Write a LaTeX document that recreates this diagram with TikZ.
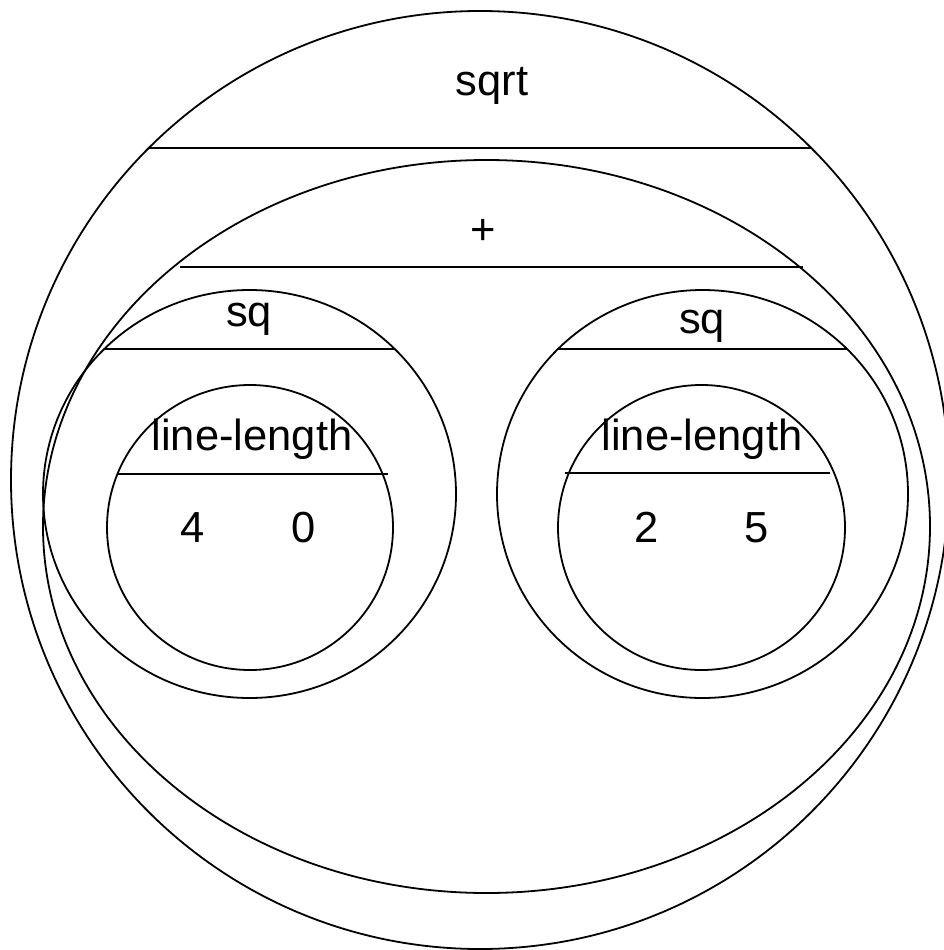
\documentclass[tikz,border=0pt]{standalone}
\usepackage{fontspec}
\setmainfont{Liberation Sans}
\usetikzlibrary{shapes.geometric}

\tikzset{
  bubble/.style={draw, ellipse, inner sep=0pt, line width=1.8pt},
  sepline/.style={line width=1.8pt},
  lbl/.style={anchor=base, inner sep=0pt, font=\fontsize{43.5}{50}\selectfont}
}

\begin{document}
\begin{tikzpicture}[x=1pt, y=-1pt]
  \useasboundingbox (0,0) rectangle (943,950);

  % nested expression bubbles
  \node[bubble, minimum width=938pt, minimum height=938pt] (sqrtE) at (480,480) {};
  \node[bubble, minimum width=887pt, minimum height=733pt] (plusE) at (486.5,526.5) {};
  \node[bubble, minimum width=413pt, minimum height=408pt] (sqL) at (249.5,494) {};
  \node[bubble, minimum width=411pt, minimum height=408pt] (sqR) at (702.5,494) {};
  \node[bubble, minimum width=286pt, minimum height=285pt] (llL) at (250,527.5) {};
  \node[bubble, minimum width=287pt, minimum height=285pt] (llR) at (701.5,527.5) {};

  % header separators
  \draw[sepline] (sqrtE.135) -- (sqrtE.45);
  \coordinate (plusA) at (180,267);
  \coordinate (plusB) at (803,267);
  \draw[sepline] (plusA) -- (plusB);
  \coordinate (sqLA) at (105,349);
  \coordinate (sqLB) at (395,349);
  \draw[sepline] (sqLA) -- (sqLB);
  \coordinate (sqRA) at (557,349);
  \coordinate (sqRB) at (847,349);
  \draw[sepline] (sqRA) -- (sqRB);
  \coordinate (llLA) at (117,474);
  \coordinate (llLB) at (388,474);
  \draw[sepline] (llLA) -- (llLB);
  \coordinate (llRA) at (565,473);
  \coordinate (llRB) at (830,473);
  \draw[sepline] (llRA) -- (llRB);

  % operator names and arguments
  \node[lbl] (tSqrt) at (492,95) {sqrt};
  \node[lbl] (tPlus) at (483,244) {+};
  \node[lbl] (tSqL) at (249,326) {sq};
  \node[lbl] (tSqR) at (702,333) {sq};
  \node[lbl] (tLlL) at (252,450) {line-length};
  \node[lbl] (tLlR) at (702,450) {line-length};
  \node[lbl] (a4) at (193,542) {4};
  \node[lbl] (a0) at (304,542) {0};
  \node[lbl] (a2) at (647,542) {2};
  \node[lbl] (a5) at (757,542) {5};
\end{tikzpicture}
\end{document}
